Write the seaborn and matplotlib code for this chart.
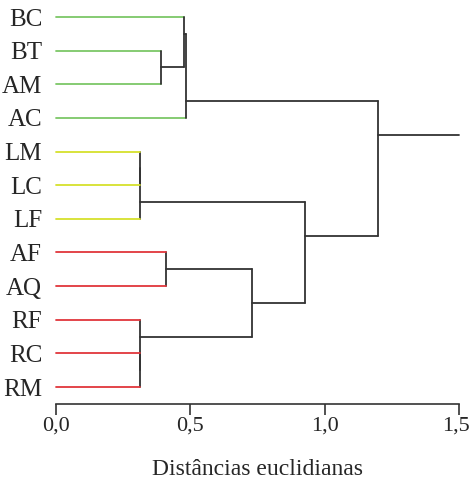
import matplotlib
matplotlib.use("Agg")
import matplotlib.pyplot as plt
import matplotlib.transforms as mtransforms
import seaborn as sns
import pandas as pd

# ---- data ----
leaves = ["BC", "BT", "AM", "AC", "LM", "LC", "LF", "AF", "AQ", "RF", "RC", "RM"]
leaf_group = ["B", "B", "B", "B", "L", "L", "L", "R", "R", "R", "R", "R"]
# binary merges (cluster c1..c11 in order)
merge_a = ["BT", "BC", "c2", "LM", "c4", "AF", "RC", "RF", "c6", "c5", "c3"]
merge_b = ["AM", "c1", "AC", "LC", "LF", "AQ", "RM", "c7", "c8", "c9", "c10"]
merge_h = [0.39, 0.476, 0.483, 0.313, 0.313, 0.408, 0.313, 0.313, 0.728, 0.927, 1.197]
root_end = 1.5
xticks = [0.0, 0.5, 1.0, 1.5]
xtick_labels = ["0,0", "0,5", "1,0", "1,5"]
xlabel = "Distâncias euclidianas"

palette = {"B": "#7cc767", "L": "#d6e02c", "R": "#e0363b", "link": "#333333"}

# ---- layout (dendrogram geometry) ----
info = {}  # name -> (pos, height, first_idx, last_idx, is_leaf)
for i, name in enumerate(leaves):
    info[name] = (float(i), 0.0, i, i, True)

rows = []
seg = 0
def add_seg(x0, y0, x1, y1, kind):
    global seg
    rows.append(dict(seg=seg, x=x0, y=y0, kind=kind))
    rows.append(dict(seg=seg, x=x1, y=y1, kind=kind))
    seg += 1

for k, (a, b, h) in enumerate(zip(merge_a, merge_b, merge_h), start=1):
    pa, ha, fa, la, leafa = info[a]
    pb, hb, fb, lb, leafb = info[b]
    add_seg(ha, pa, h, pa, leaf_group[leaves.index(a)] if leafa else "link")
    add_seg(hb, pb, h, pb, leaf_group[leaves.index(b)] if leafb else "link")
    add_seg(h, pa, h, pb, "link")
    info[f"c{k}"] = (la + 0.5, h, fa, lb, False)

root = info[f"c{len(merge_h)}"]
add_seg(root[1], root[0], root_end, root[0], "link")
df = pd.DataFrame(rows)

# ---- plot ----
sns.set_style("white")
plt.rcParams["font.family"] = ["Liberation Serif", "DejaVu Serif"]

fig = plt.figure(figsize=(4.69, 4.79), dpi=100)
ax = fig.add_axes([56 / 469, (479 - 404) / 479, 403 / 469, 403.8 / 479])

sns.lineplot(data=df, x="x", y="y", units="seg", estimator=None, hue="kind",
             palette=palette, sort=False, legend=False, linewidth=1.3, ax=ax,
             clip_on=False)

ax.set_xlim(0, 1.5)
ax.set_ylim(11.505, -0.5)
ax.set_xticks(xticks)
ax.set_xticklabels(xtick_labels, fontsize=16)
ax.set_yticks(range(len(leaves)))
ax.set_yticklabels(leaves, fontsize=18)
ax.tick_params(axis="y", length=0, pad=10)
ax.tick_params(axis="x", bottom=True, direction="out", length=8, width=1.2,
               color="#333333", pad=1)
# keep last tick label inside the figure
lab = ax.get_xticklabels()[-1]
lab.set_transform(lab.get_transform() +
                  mtransforms.ScaledTranslation(-3 / 100, 0, fig.dpi_scale_trans))
ax.set_xlabel(xlabel, fontsize=17, labelpad=17)
ax.set_ylabel("")
for s in ["top", "right", "left"]:
    ax.spines[s].set_visible(False)
ax.spines["bottom"].set_color("#333333")
ax.spines["bottom"].set_linewidth(1.2)
ax.spines["bottom"].set_bounds(0, 1.5)
ax.grid(False)

fig.savefig("out.png", dpi=100)
